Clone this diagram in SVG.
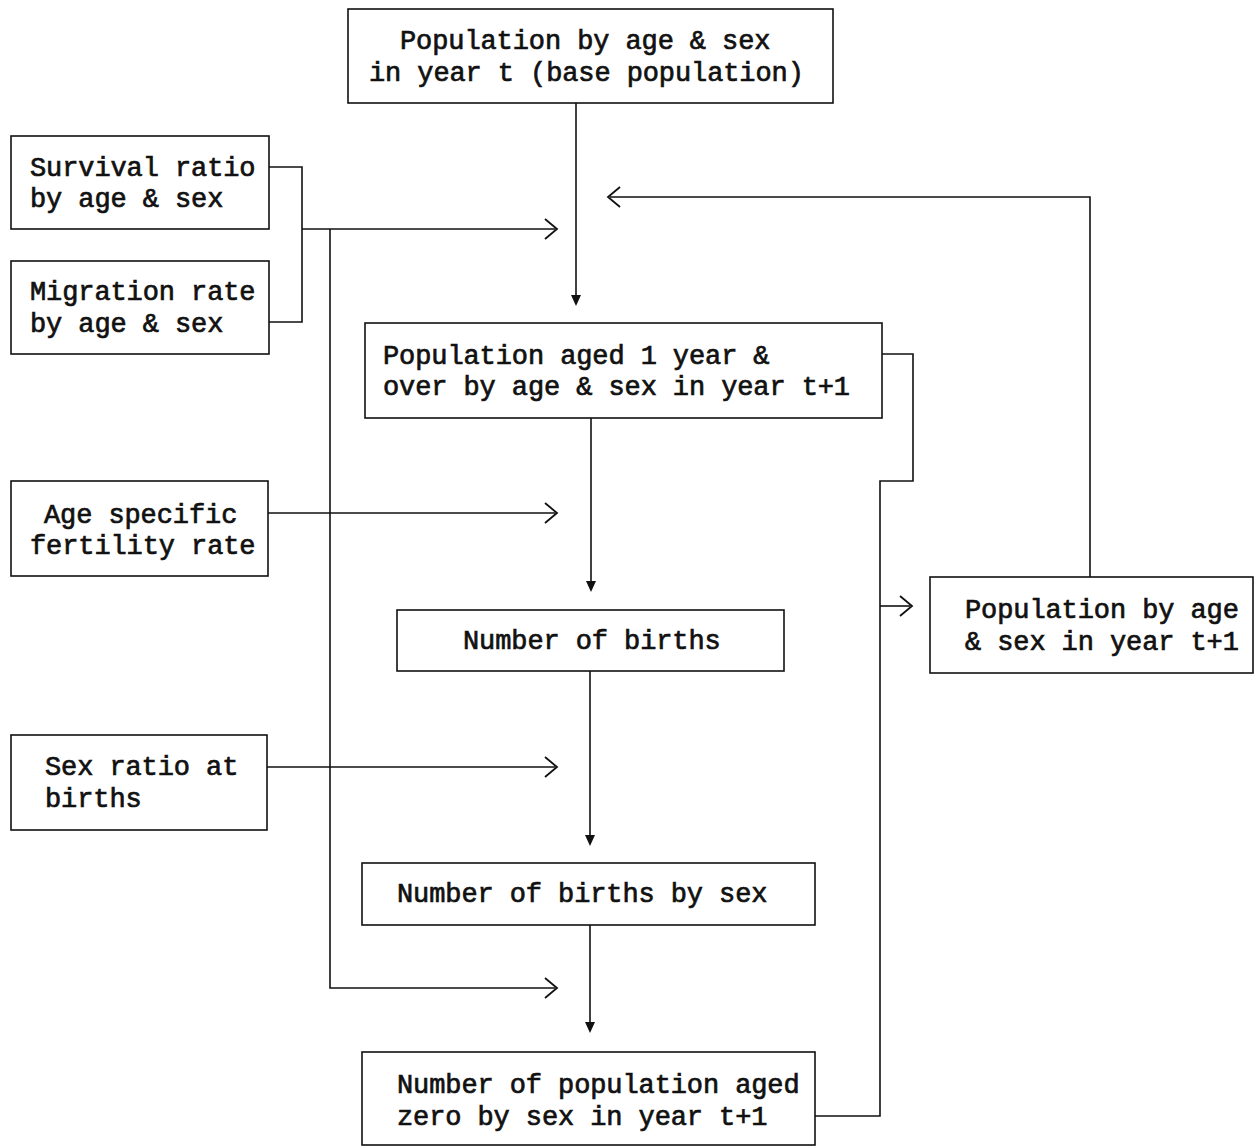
<svg xmlns="http://www.w3.org/2000/svg" width="1255" height="1146" viewBox="0 0 1255 1146">
  <style>
    .box { fill: #fff; stroke: #111; stroke-width: 1.6; }
    .lbl { font-family: "Liberation Mono", "DejaVu Sans Mono", monospace; font-size: 27px; font-weight: normal; letter-spacing: -0.1px; fill: #111; stroke: #111; stroke-width: 0.7px; }
    .wire { fill: none; stroke: #111; stroke-width: 1.6; }
    .chev { fill: none; stroke: #111; stroke-width: 1.8; }
    .head { fill: #111; }
  </style>
  <rect width="1255" height="1146" fill="#fff"/>

  <!-- connectors -->
  <g id="connectors">
    <!-- base population down to aged 1+ -->
    <path class="wire" d="M576 103 V300"/>
    <path class="head" d="M571 295 L581 295 L576 306 Z"/>
    <!-- survival / migration bracket -->
    <path class="wire" d="M269 167 H302 V322 H269"/>
    <path class="wire" d="M302 229 H555"/>
    <path class="chev" d="M545 219 L557 229 L545 239"/>
    <!-- branch down to the zero-age step -->
    <path class="wire" d="M330 229 V988 H555"/>
    <path class="chev" d="M545 978 L557 988 L545 998"/>
    <!-- fertility input -->
    <path class="wire" d="M268 513 H555"/>
    <path class="chev" d="M545 503 L557 513 L545 523"/>
    <!-- sex ratio input -->
    <path class="wire" d="M267 767 H555"/>
    <path class="chev" d="M545 757 L557 767 L545 777"/>
    <!-- aged 1+ down to births -->
    <path class="wire" d="M591 418 V586"/>
    <path class="head" d="M586 581 L596 581 L591 592 Z"/>
    <!-- births down to births by sex -->
    <path class="wire" d="M590 671 V840"/>
    <path class="head" d="M585 835 L595 835 L590 846 Z"/>
    <!-- births by sex down to aged zero -->
    <path class="wire" d="M590 925 V1027"/>
    <path class="head" d="M585 1022 L595 1022 L590 1033 Z"/>
    <!-- collector into year t+1 population -->
    <path class="wire" d="M882 354 H913 V481 H880 V1116 H815"/>
    <path class="wire" d="M880 606 H910"/>
    <path class="chev" d="M900 596 L912 606 L900 616"/>
    <!-- feedback loop to next year -->
    <path class="wire" d="M1090 577 V197 H610"/>
    <path class="chev" d="M620 187 L608 197 L620 207"/>
  </g>

  <g id="base-pop">
    <rect class="box" x="348" y="9" width="485" height="94"/>
    <text class="lbl" x="400" y="49">Population by age &amp; sex</text>
    <text class="lbl" x="369" y="81">in year t (base population)</text>
  </g>

  <g id="survival">
    <rect class="box" x="11" y="136" width="258" height="93"/>
    <text class="lbl" x="30" y="176">Survival ratio</text>
    <text class="lbl" x="30" y="207">by age &amp; sex</text>
  </g>

  <g id="migration">
    <rect class="box" x="11" y="261" width="258" height="93"/>
    <text class="lbl" x="30" y="300">Migration rate</text>
    <text class="lbl" x="30" y="332">by age &amp; sex</text>
  </g>

  <g id="aged-one-plus">
    <rect class="box" x="365" y="323" width="517" height="95"/>
    <text class="lbl" x="383" y="364">Population aged 1 year &amp;</text>
    <text class="lbl" x="383" y="395">over by age &amp; sex in year t+1</text>
  </g>

  <g id="fertility">
    <rect class="box" x="11" y="481" width="257" height="95"/>
    <text class="lbl" x="44" y="523">Age specific</text>
    <text class="lbl" x="30" y="554">fertility rate</text>
  </g>

  <g id="births">
    <rect class="box" x="397" y="610" width="387" height="61"/>
    <text class="lbl" x="463" y="649">Number of births</text>
  </g>

  <g id="pop-next-year">
    <rect class="box" x="930" y="577" width="323" height="96"/>
    <text class="lbl" x="965" y="618">Population by age</text>
    <text class="lbl" x="965" y="650">&amp; sex in year t+1</text>
  </g>

  <g id="sex-ratio">
    <rect class="box" x="11" y="735" width="256" height="95"/>
    <text class="lbl" x="45" y="775">Sex ratio at</text>
    <text class="lbl" x="45" y="807">births</text>
  </g>

  <g id="births-by-sex">
    <rect class="box" x="362" y="863" width="453" height="62"/>
    <text class="lbl" x="397" y="902">Number of births by sex</text>
  </g>

  <g id="aged-zero">
    <rect class="box" x="362" y="1052" width="453" height="93"/>
    <text class="lbl" x="397" y="1093">Number of population aged</text>
    <text class="lbl" x="397" y="1125">zero by sex in year t+1</text>
  </g>
</svg>
